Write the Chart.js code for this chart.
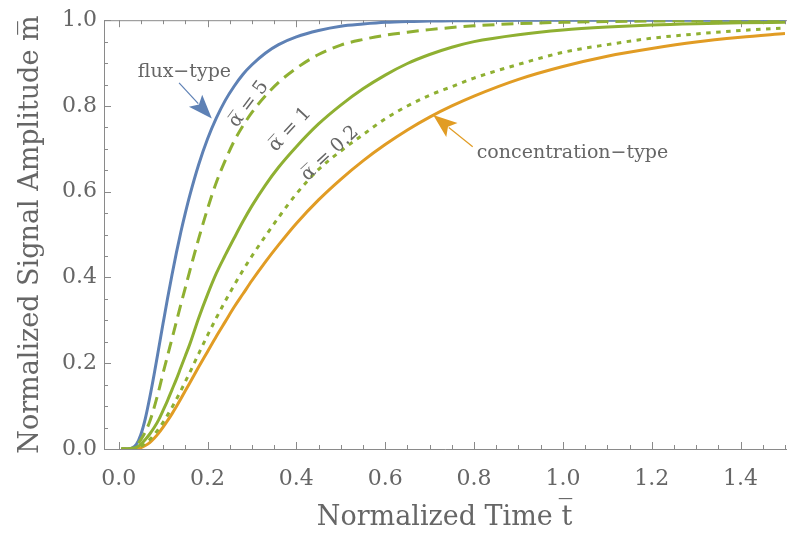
<!DOCTYPE html>
<html>
<head>
<meta charset="utf-8">
<script src="https://cdn.jsdelivr.net/npm/chart.js@4/dist/chart.umd.min.js"></script>
<style>
html,body{margin:0;padding:0;background:#fff;}
#wrap{width:787px;height:544px;position:relative;}
</style>
</head>
<body>
<div id="wrap"><canvas id="c" width="787" height="544"></canvas></div>
<script>
// ---- data ----
const tValues = [0.006,0.02,0.03,0.04,0.05,0.06,0.07,0.08,0.09,0.10,
  0.11,0.12,0.13,0.14,0.15,0.16,
  0.18,0.20,0.22,0.24,0.26,0.28,0.30,
  0.33,0.36,0.40,0.45,0.50,0.55,0.60,0.65,0.70,0.75,0.80,
  0.90,1.00,1.10,1.20,1.30,1.40,1.50];

const fluxType = [0,0,0.002,0.011,0.034,0.071,0.120,0.175,0.234,0.293,
  0.351,0.406,0.458,0.506,0.550,0.591,
  0.663,0.723,0.772,0.813,0.846,0.874,0.896,
  0.923,0.943,0.961,0.976,0.986,0.991,0.995,0.997,0.998,0.999,0.999,
  1.0,1.0,1.0,1.0,1.0,1.0,1.0];

const alpha5 = [0,0,0.002,0.009,0.022,0.040,0.064,0.097,0.135,0.177,
  0.217,0.257,0.297,0.337,0.376,0.415,
  0.49,0.56,0.622,0.673,0.718,0.754,0.785,
  0.823,0.855,0.888,0.92,0.942,0.955,0.965,0.972,0.978,0.983,0.987,
  0.992,0.995,0.997,0.998,0.999,0.999,1.0];

const alpha1 = [0,0,0.001,0.004,0.011,0.022,0.035,0.05,0.068,0.09,
  0.113,0.138,0.163,0.19,0.217,0.244,
  0.305,0.36,0.41,0.452,0.492,0.531,0.567,
  0.615,0.657,0.705,0.758,0.802,0.840,0.872,0.899,0.920,0.937,0.950,
  0.966,0.977,0.984,0.989,0.992,0.994,0.995];

const alpha02 = [0,0,0.0005,0.002,0.006,0.013,0.022,0.034,0.047,0.062,
  0.079,0.097,0.116,0.136,0.157,0.178,
  0.222,0.265,0.306,0.345,0.382,0.417,0.45,
  0.496,0.54,0.595,0.652,0.695,0.733,0.77,0.80,0.825,0.845,0.865,
  0.897,0.925,0.943,0.958,0.968,0.976,0.982];

const concentrationType = [0,0,0.0001,0.001,0.003,0.008,0.015,0.025,0.037,0.051,
  0.066,0.082,0.099,0.117,0.136,0.154,
  0.191,0.227,0.263,0.297,0.331,0.362,0.393,
  0.436,0.476,0.526,0.581,0.629,0.672,0.710,0.744,0.774,0.80,0.823,
  0.862,0.892,0.916,0.934,0.949,0.960,0.969];

const xTickValues = [0.0,0.2,0.4,0.6,0.8,1.0,1.2,1.4];
const yTickValues = [0.0,0.2,0.4,0.6,0.8,1.0];
const xMinorStep = 0.05;
const yMinorStep = 0.05;

const xTitle = 'Normalized Time t\u0305';
const yTitle = 'Normalized Signal Amplitude m\u0305';

// ---- styling ----
const BLUE = '#5E81B5';
const ORANGE = '#E19C24';
const GREEN = '#8FB032';
const FRAME = '#8a8a8a';
const TEXT = '#666666';
const FONT = '"DejaVu Serif", "Liberation Serif", serif';

// annotation anchors in data coordinates
const arrowNotes = [
  {text:'flux\u2212type', color:BLUE, textT:0.148, textM:0.879, align:'center',
   tailT:0.136, tailM:0.854, tipT:0.2097, tipM:0.771},
  {text:'concentration\u2212type', color:ORANGE, textT:0.806, textM:0.691, align:'left',
   tailT:0.797, tailM:0.705, tipT:0.708, tipM:0.779}
];
const curveNotes = [
  {text:'\u03B1\u0305 = 5', t:0.293, m:0.804, angle:-53},
  {text:'\u03B1\u0305 = 1', t:0.386, m:0.745, angle:-47},
  {text:'\u03B1\u0305 = 0.2', t:0.476, m:0.689, angle:-43}
];

const pts = arr => tValues.map((t,i)=>({x:t, y:arr[i]}));

function drawArrow(ctx, x0, y0, x1, y1, color, headLen, headHalf){
  const ang = Math.atan2(y1-y0, x1-x0);
  const cos = Math.cos(ang), sin = Math.sin(ang);
  const bx = x1 - headLen*cos, by = y1 - headLen*sin;
  ctx.save();
  ctx.strokeStyle = color; ctx.fillStyle = color; ctx.lineWidth = 1.2;
  ctx.beginPath(); ctx.moveTo(x0,y0); ctx.lineTo(bx + 4*cos, by + 4*sin); ctx.stroke();
  const nx = -sin, ny = cos;
  ctx.beginPath();
  ctx.moveTo(x1,y1);
  ctx.lineTo(bx + headHalf*nx, by + headHalf*ny);
  ctx.lineTo(bx + 5*cos, by + 5*sin);
  ctx.lineTo(bx - headHalf*nx, by - headHalf*ny);
  ctx.closePath(); ctx.fill();
  ctx.restore();
}

const framePlugin = {
  id:'frame',
  beforeDatasetsDraw(chart){
    const {ctx, chartArea:a, scales:{x, y}} = chart;
    ctx.save();
    ctx.strokeStyle = FRAME; ctx.lineWidth = 1;
    ctx.beginPath();
    ctx.moveTo(a.left+0.5, a.top+0.5); ctx.lineTo(a.left+0.5, a.bottom+0.5);
    ctx.lineTo(chart.width, a.bottom+0.5);
    ctx.moveTo(a.left+0.5, a.top+0.5); ctx.lineTo(chart.width, a.top+0.5);
    ctx.stroke();
    ctx.beginPath();
    for (let v = 0; v <= x.max + 1e-9; v += xMinorStep){
      const major = Math.abs(v/0.2 - Math.round(v/0.2)) < 1e-6;
      const L = major ? 7 : 4;
      const px = Math.round(x.getPixelForValue(v)) + 0.5;
      if (px > chart.width) continue;
      ctx.moveTo(px, a.bottom); ctx.lineTo(px, a.bottom - L);
      ctx.moveTo(px, a.top); ctx.lineTo(px, a.top + L);
    }
    for (let v = 0; v <= 1 + 1e-9; v += yMinorStep){
      const major = Math.abs(v/0.2 - Math.round(v/0.2)) < 1e-6;
      const L = major ? 7 : 4;
      const py = Math.round(y.getPixelForValue(v)) + 0.5;
      ctx.moveTo(a.left, py); ctx.lineTo(a.left + L, py);
    }
    ctx.stroke();
    ctx.restore();
  }
};

const notesPlugin = {
  id:'notes',
  afterDatasetsDraw(chart){
    const {ctx, scales:{x, y}} = chart;
    ctx.save();
    ctx.font = '19px ' + FONT;
    ctx.fillStyle = TEXT;
    ctx.textBaseline = 'middle';
    arrowNotes.forEach(n=>{
      drawArrow(ctx, x.getPixelForValue(n.tailT), y.getPixelForValue(n.tailM),
                x.getPixelForValue(n.tipT), y.getPixelForValue(n.tipM), n.color, 24, 9);
      ctx.fillStyle = TEXT;
      ctx.textAlign = n.align;
      ctx.fillText(n.text, x.getPixelForValue(n.textT), y.getPixelForValue(n.textM));
    });
    curveNotes.forEach(n=>{
      ctx.save();
      ctx.translate(x.getPixelForValue(n.t), y.getPixelForValue(n.m));
      ctx.rotate(n.angle*Math.PI/180);
      ctx.textAlign = 'center';
      ctx.fillStyle = TEXT;
      ctx.fillText(n.text, 0, 0);
      ctx.restore();
    });
    ctx.restore();
  }
};

const common = {fill:false, pointRadius:0, borderWidth:3, cubicInterpolationMode:'monotone', borderCapStyle:'butt'};

new Chart(document.getElementById('c'), {
  type:'line',
  data:{
    datasets:[
      {...common, label:'\u03B1\u0305 = 5', data:pts(alpha5), borderColor:GREEN, borderDash:[12,7]},
      {...common, label:'\u03B1\u0305 = 1', data:pts(alpha1), borderColor:GREEN},
      {...common, label:'\u03B1\u0305 = 0.2', data:pts(alpha02), borderColor:GREEN, borderDash:[4.5,5.5]},
      {...common, label:'flux\u2212type', data:pts(fluxType), borderColor:BLUE},
      {...common, label:'concentration\u2212type', data:pts(concentrationType), borderColor:ORANGE}
    ]
  },
  options:{
    responsive:false,
    animation:false,
    devicePixelRatio:1,
    layout:{padding:{top:18, right:2, left:0, bottom:0}},
    plugins:{legend:{display:false}, tooltip:{enabled:false}},
    scales:{
      x:{
        type:'linear', min:-0.033, max:1.5,
        afterBuildTicks:s=>{ s.ticks = xTickValues.map(v=>({value:v})); },
        afterFit:s=>{ s.height = 95; },
        grid:{display:false, drawTicks:false},
        border:{display:false},
        ticks:{padding:17, color:TEXT, font:{family:FONT, size:22},
               callback:v=>Number(v).toFixed(1), maxRotation:0, autoSkip:false},
        title:{display:true, text:xTitle, color:TEXT, font:{family:FONT, size:27},
               padding:{top:0, bottom:10}}
      },
      y:{
        type:'linear', min:0, max:1,
        afterBuildTicks:s=>{ s.ticks = yTickValues.map(v=>({value:v})); },
        afterFit:s=>{ s.width = 104; },
        grid:{display:false, drawTicks:false},
        border:{display:false},
        ticks:{padding:7, color:TEXT, font:{family:FONT, size:22},
               callback:v=>Number(v).toFixed(1), autoSkip:false},
        title:{display:true, text:yTitle, color:TEXT, font:{family:FONT, size:27},
               padding:{top:15, bottom:0}}
      }
    }
  },
  plugins:[framePlugin, notesPlugin]
});
</script>
</body>
</html>
